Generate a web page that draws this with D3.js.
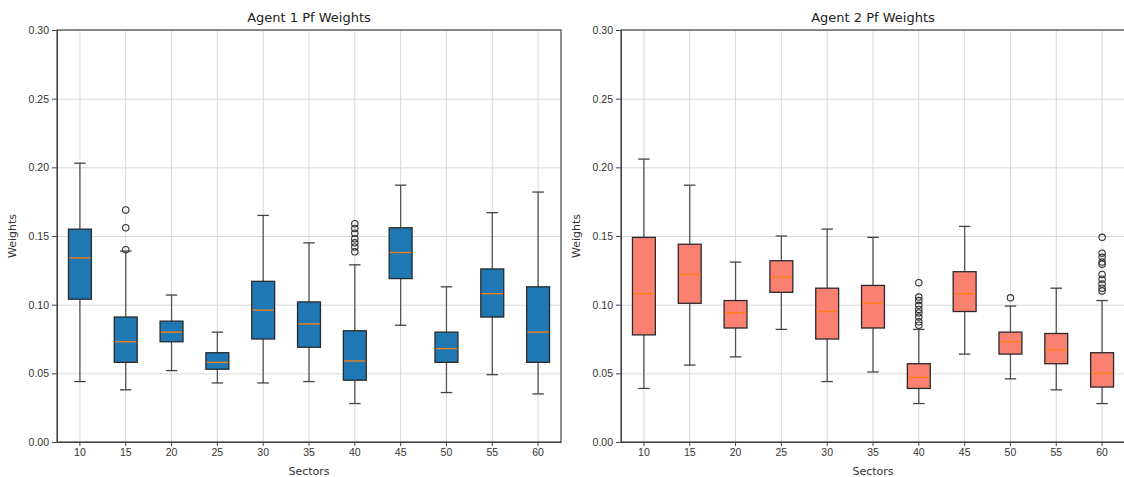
<!DOCTYPE html>
<html>
<head>
<meta charset="utf-8">
<script src="https://cdn.jsdelivr.net/npm/d3@7"></script>
<style>
  body { margin: 0; background: #fff; }
  svg { display: block; font-family: 'DejaVu Sans', sans-serif; }
  .axis text { fill: #333; font-size: 10.5px; }
  .axis path, .axis line { stroke: #444; }
  .grid line { stroke: #d9d9d9; }
  .grid .domain { display: none; }
</style>
</head>
<body>
<div id="chart"></div>
<script>
const sectors = ['10', '15', '20', '25', '30', '35', '40', '45', '50', '55', '60']
const yTicks = [0, 0.05, 0.1, 0.15, 0.2, 0.25, 0.3]

// agent 1 box stats
const a1Low = [0.044, 0.038, 0.052, 0.043, 0.043, 0.044, 0.028, 0.085, 0.036, 0.049, 0.035]
const a1Q1 = [0.104, 0.058, 0.073, 0.053, 0.075, 0.069, 0.045, 0.119, 0.058, 0.091, 0.058]
const a1Med = [0.134, 0.073, 0.080, 0.058, 0.096, 0.086, 0.059, 0.138, 0.068, 0.108, 0.080]
const a1Q3 = [0.155, 0.091, 0.088, 0.065, 0.117, 0.102, 0.081, 0.156, 0.080, 0.126, 0.113]
const a1High = [0.203, 0.139, 0.107, 0.080, 0.165, 0.145, 0.129, 0.187, 0.113, 0.167, 0.182]
const a1Out = [
  [], [0.169, 0.156, 0.140], [], [], [], [],
  [0.159, 0.1555, 0.152, 0.148, 0.145, 0.142, 0.1385], [], [], [], [],
]

// agent 2 box stats
const a2Low = [0.039, 0.056, 0.062, 0.082, 0.044, 0.051, 0.028, 0.064, 0.046, 0.038, 0.028]
const a2Q1 = [0.078, 0.101, 0.083, 0.109, 0.075, 0.083, 0.039, 0.095, 0.064, 0.057, 0.040]
const a2Med = [0.108, 0.122, 0.094, 0.120, 0.095, 0.101, 0.047, 0.108, 0.073, 0.067, 0.050]
const a2Q3 = [0.149, 0.144, 0.103, 0.132, 0.112, 0.114, 0.057, 0.124, 0.080, 0.079, 0.065]
const a2High = [0.206, 0.187, 0.131, 0.150, 0.155, 0.149, 0.082, 0.157, 0.099, 0.112, 0.103]
const a2Out = [
  [], [], [], [], [], [],
  [0.116, 0.1055, 0.103, 0.0995, 0.0965, 0.094, 0.091, 0.0875, 0.085], [], [0.105], [],
  [0.149, 0.1375, 0.1345, 0.131, 0.1295, 0.122, 0.1185, 0.115, 0.112, 0.110],
]

const panels = [
  { title: 'Agent 1 Pf Weights', fill: '#1f77b4', left: 57, low: a1Low, q1: a1Q1, med: a1Med, q3: a1Q3, high: a1High, out: a1Out },
  { title: 'Agent 2 Pf Weights', fill: '#fa8072', left: 621, low: a2Low, q1: a2Q1, med: a2Med, q3: a2Q3, high: a2High, out: a2Out },
]

const W = 1124
const H = 477
const plotW = 504
const plotH = 412
const plotTop = 30

const svg = d3.select('#chart').append('svg').attr('width', W).attr('height', H)

panels.forEach((p) => {
  const g = svg.append('g').attr('transform', `translate(${p.left},${plotTop})`)

  const x = d3.scaleBand().domain(sectors).range([0, plotW]).paddingInner(0.5).paddingOuter(0.25)
  const y = d3.scaleLinear().domain([0, 0.3]).range([plotH, 0])
  const cx = (s) => x(s) + x.bandwidth() / 2

  // grid
  g.append('g')
    .attr('class', 'grid')
    .attr('transform', `translate(0,${plotH})`)
    .call(d3.axisBottom(x).tickSize(-plotH).tickFormat(''))
  g.append('g')
    .attr('class', 'grid')
    .call(d3.axisLeft(y).tickValues(yTicks).tickSize(-plotW).tickFormat(''))

  const rows = sectors.map((s, i) => ({
    s, low: p.low[i], q1: p.q1[i], med: p.med[i], q3: p.q3[i], high: p.high[i], out: p.out[i],
  }))

  const box = g.append('g').selectAll('g').data(rows).enter().append('g')
  const bw = x.bandwidth()
  const capW = bw / 2

  // whiskers
  box.append('line')
    .attr('x1', (d) => cx(d.s)).attr('x2', (d) => cx(d.s))
    .attr('y1', (d) => y(d.low)).attr('y2', (d) => y(d.q1))
    .attr('stroke', '#555').attr('stroke-width', 1.3)
  box.append('line')
    .attr('x1', (d) => cx(d.s)).attr('x2', (d) => cx(d.s))
    .attr('y1', (d) => y(d.q3)).attr('y2', (d) => y(d.high))
    .attr('stroke', '#555').attr('stroke-width', 1.3)
  // caps
  ;['low', 'high'].forEach((k) => {
    box.append('line')
      .attr('x1', (d) => cx(d.s) - capW / 2).attr('x2', (d) => cx(d.s) + capW / 2)
      .attr('y1', (d) => y(d[k])).attr('y2', (d) => y(d[k]))
      .attr('stroke', '#444').attr('stroke-width', 1.3)
  })

  box.append('rect')
    .attr('x', (d) => x(d.s))
    .attr('y', (d) => y(d.q3))
    .attr('width', bw)
    .attr('height', (d) => y(d.q1) - y(d.q3))
    .attr('fill', p.fill)
    .attr('stroke', '#2a2a2a')
    .attr('stroke-width', 1.3)

  box.append('line')
    .attr('x1', (d) => x(d.s) + 0.7).attr('x2', (d) => x(d.s) + bw - 0.7)
    .attr('y1', (d) => y(d.med)).attr('y2', (d) => y(d.med))
    .attr('stroke', '#ff7f0e').attr('stroke-width', 1.3)

  box.selectAll('circle')
    .data((d) => d.out.map((v) => ({ s: d.s, v })))
    .enter()
    .append('circle')
    .attr('cx', (d) => cx(d.s))
    .attr('cy', (d) => y(d.v))
    .attr('r', 3.2)
    .attr('fill', 'none')
    .attr('stroke', '#333')
    .attr('stroke-width', 1.1)

  // axes
  g.append('g')
    .attr('class', 'axis')
    .attr('transform', `translate(0,${plotH})`)
    .call(d3.axisBottom(x).tickSize(4).tickSizeOuter(0).tickPadding(3))
  g.append('g')
    .attr('class', 'axis')
    .call(d3.axisLeft(y).tickValues(yTicks).tickFormat(d3.format('.2f')).tickSize(5).tickSizeOuter(0).tickPadding(3))

  // frame
  g.append('rect')
    .attr('width', plotW).attr('height', plotH)
    .attr('fill', 'none').attr('stroke', '#444').attr('stroke-width', 1.2)

  g.append('text')
    .attr('x', plotW / 2).attr('y', -8)
    .attr('text-anchor', 'middle')
    .style('font-size', '13px').style('fill', '#222')
    .text(p.title)
  g.append('text')
    .attr('x', plotW / 2).attr('y', plotH + 33)
    .attr('text-anchor', 'middle')
    .style('font-size', '11px').style('fill', '#333')
    .text('Sectors')
  g.append('text')
    .attr('transform', `translate(-41,${plotH / 2}) rotate(-90)`)
    .attr('text-anchor', 'middle')
    .style('font-size', '11px').style('fill', '#333')
    .text('Weights')
})
</script>
</body>
</html>
